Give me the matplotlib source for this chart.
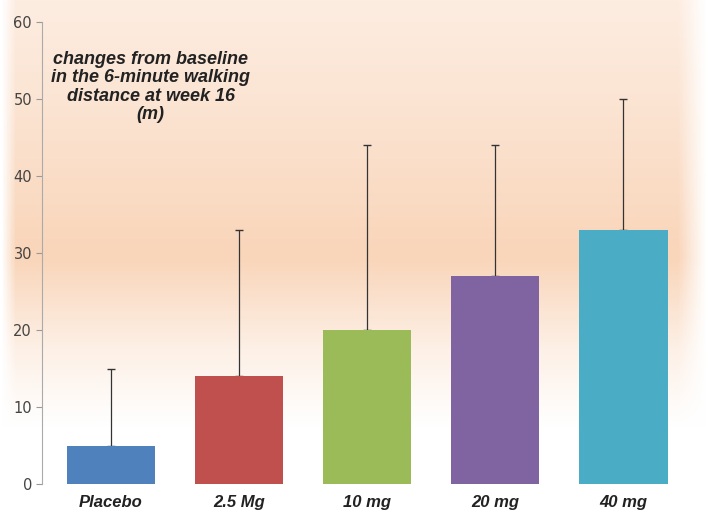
import numpy as np
import matplotlib
matplotlib.use("Agg")
import matplotlib.pyplot as plt
from matplotlib.colors import LinearSegmentedColormap

# data
groups = ["Placebo", "2.5 Mg", "10 mg", "20 mg", "40 mg"]
means = [5, 14, 20, 27, 33]
upper_err = [10, 19, 24, 17, 17]
colors = ["#4F81BD", "#C0504D", "#9BBB59", "#8064A2", "#4BACC6"]

fig = plt.figure(figsize=(7.08, 5.14), dpi=100)

# background gradient (peach band behind the bars, white at the bottom)
bg = fig.add_axes([0, 0, 1, 1], zorder=0)
bg.axis("off")
cmap = LinearSegmentedColormap.from_list(
    "peach",
    [(0.0, "#FFFFFF"), (0.17, "#FFFFFF"), (0.32, "#FDF0E6"),
     (0.50, "#F9D5B9"), (0.75, "#FBE2CF"), (1.0, "#FDEDE1")])
grad = np.linspace(0, 1, 256).reshape(-1, 1)
img = cmap(grad)
# fade the left/right edges to white
xs = np.linspace(0, 1, 200)
edge = np.clip(np.minimum(xs / 0.02, (1 - xs) / 0.04), 0, 1)
img = np.repeat(img, 200, axis=1)
img[..., :3] = 1 - (1 - img[..., :3]) * edge[None, :, None]
bg.imshow(img, aspect="auto", origin="lower", extent=[0, 1, 0, 1])
bg.set_xlim(0, 1)
bg.set_ylim(0, 1)

ax = fig.add_axes([0.059, 0.058, 0.93, 0.899], zorder=1)
ax.patch.set_alpha(0)

x = np.arange(len(groups))
ax.bar(x, means, width=0.69, color=colors, zorder=2)
ax.errorbar(x, means, yerr=[np.zeros(len(means)), upper_err], fmt="none",
            ecolor="#333333", elinewidth=0.9, capsize=3, capthick=1, zorder=1)

ax.set_ylim(0, 60)
ax.set_xlim(-0.54, 4.6)
ax.set_yticks(range(0, 61, 10))
ax.set_xticks(x)
ax.set_xticklabels(groups, fontsize=12, fontstyle="italic", fontweight="bold",
                   color="#222222", family="Liberation Sans")
ax.tick_params(axis="x", length=0, pad=8)
ax.tick_params(axis="y", length=4, color="#999999", labelsize=10.5,
               labelcolor="#444444", pad=3)
for s in ["top", "right", "bottom"]:
    ax.spines[s].set_visible(False)
ax.spines["left"].set_color("#AAAAAA")

ax.text(0.31, 56.3, "changes from baseline\nin the 6-minute walking\ndistance at week 16\n(m)",
        ha="center", va="top", fontsize=13, fontstyle="italic", fontweight="bold",
        color="#222222", family="Liberation Sans", linespacing=1.12)

fig.savefig("out.png", dpi=100)
